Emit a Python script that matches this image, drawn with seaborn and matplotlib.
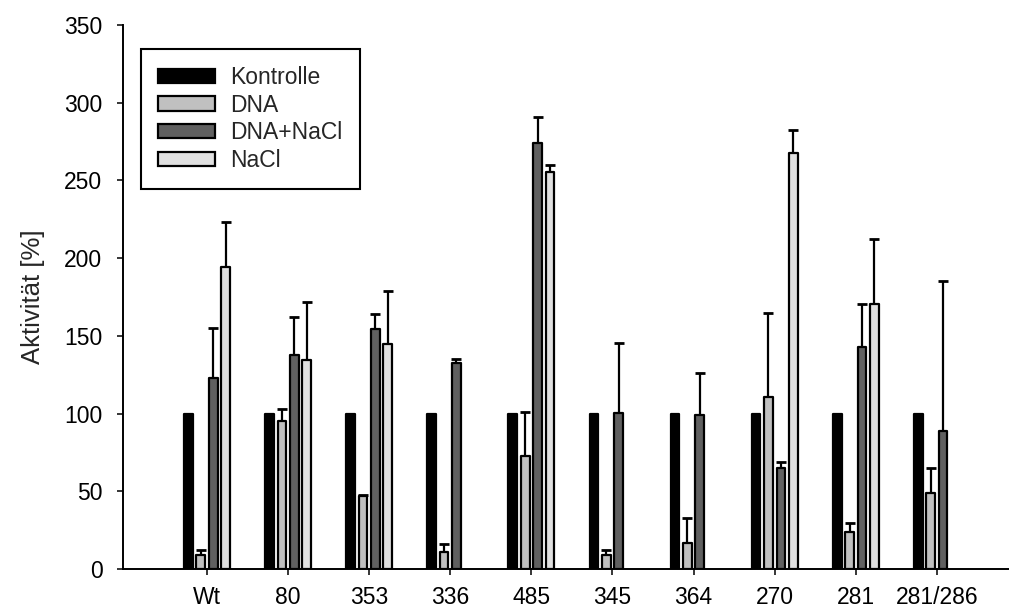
import numpy as np
import pandas as pd
import matplotlib
matplotlib.use("Agg")
import matplotlib.pyplot as plt
import seaborn as sns

# ---- data ----
categories = ["Wt", "80", "353", "336", "485", "345", "364", "270", "281", "281/286"]
conditions = ["Kontrolle", "DNA", "DNA+NaCl", "NaCl"]

kontrolle = [100, 100, 100, 100, 100, 100, 100, 100, 100, 100]
dna = [9, 95, 47, 11, 73, 9, 17, 110.5, 24, 49]
dna_nacl = [123, 138, 154.5, 132.5, 274, 100.5, 99, 65, 143, 89]
nacl = [194, 134.5, 145, np.nan, 255.5, np.nan, np.nan, 267.5, 170.5, np.nan]

err_kontrolle = [0, 0, 0, 0, 0, 0, 0, 0, 0, 0]
err_dna = [3, 8, 0.8, 5, 28, 3, 16, 54.5, 5.5, 16]
err_dna_nacl = [32, 24, 9.5, 2.5, 17, 45, 27, 4, 27.5, 96]
err_nacl = [29, 37.5, 34, np.nan, 4.5, np.nan, np.nan, 15, 41.5, np.nan]

colors = ["#000000", "#c0c0c0", "#606060", "#e0e0e0"]

values = [kontrolle, dna, dna_nacl, nacl]
errors = [err_kontrolle, err_dna, err_dna_nacl, err_nacl]

rows = []
for cond, vals, errs in zip(conditions, values, errors):
    for cat, v, e in zip(categories, vals, errs):
        rows.append({"Mutante": cat, "Bedingung": cond, "Aktivitaet": v, "Fehler": e})
df = pd.DataFrame(rows)
df_plot = df.dropna(subset=["Aktivitaet"])

# ---- style ----
sns.set_style("ticks")
plt.rcParams["font.family"] = ["Liberation Sans", "DejaVu Sans"]
FS = 16.5

fig = plt.figure(figsize=(10.09, 6.10), dpi=100)
ax = fig.add_axes([123 / 1009, 41 / 610, 886 / 1009, 544 / 610])

group_width = 0.61
gap = 0.3
sns.barplot(
    data=df_plot, x="Mutante", y="Aktivitaet", hue="Bedingung",
    order=categories, hue_order=conditions, palette=colors,
    width=group_width, gap=gap, saturation=1, errorbar=None,
    edgecolor="black", linewidth=1.6, ax=ax, legend=True,
)
for p in ax.patches:
    p.set_joinstyle("round")

# error bars (upper only)
n = len(conditions)
pitch = group_width / n
for j, (cond, vals, errs) in enumerate(zip(conditions, values, errors)):
    for i, (v, e) in enumerate(zip(vals, errs)):
        if np.isnan(v) or np.isnan(e) or e <= 0:
            continue
        xpos = i + (j - (n - 1) / 2) * pitch
        ax.vlines(xpos, v, v + e, color="black", linewidth=1.6, zorder=4)
        ax.plot([xpos], [v + e], marker="_", markersize=6.5, markeredgewidth=2,
                color="black", linestyle="none", zorder=4)

ax.set_ylim(0, 350)
ax.set_xlim(-1.036, 9.89)
ax.set_yticks(np.arange(0, 351, 50))
ax.set_xlabel("")
ax.set_ylabel("Aktivität [%]", fontsize=18.5, labelpad=14)

for s in ["top", "right"]:
    ax.spines[s].set_visible(False)
for s in ["left", "bottom"]:
    ax.spines[s].set_linewidth(1.4)
    ax.spines[s].set_color("black")

ax.tick_params(axis="y", direction="out", length=4.3, width=1.1, pad=10.5,
               labelsize=FS, colors="black")
ax.tick_params(axis="x", direction="out", length=4.3, width=1.1, pad=8,
               labelsize=FS, colors="black")

handles, labels = ax.get_legend_handles_labels()
leg = ax.legend(
    handles, labels, loc="upper left", bbox_to_anchor=(0.0203, 0.956),
    borderaxespad=0, frameon=True, fancybox=False, shadow=False,
    fontsize=FS, handlelength=2.5, handleheight=0.6, handletextpad=0.65,
    borderpad=0.75, labelspacing=0.2,
)
leg.get_frame().set_edgecolor("black")
leg.get_frame().set_linewidth(1.5)
leg.get_frame().set_facecolor("white")
leg.get_frame().set_alpha(1)

fig.savefig("out.png", dpi=100)
